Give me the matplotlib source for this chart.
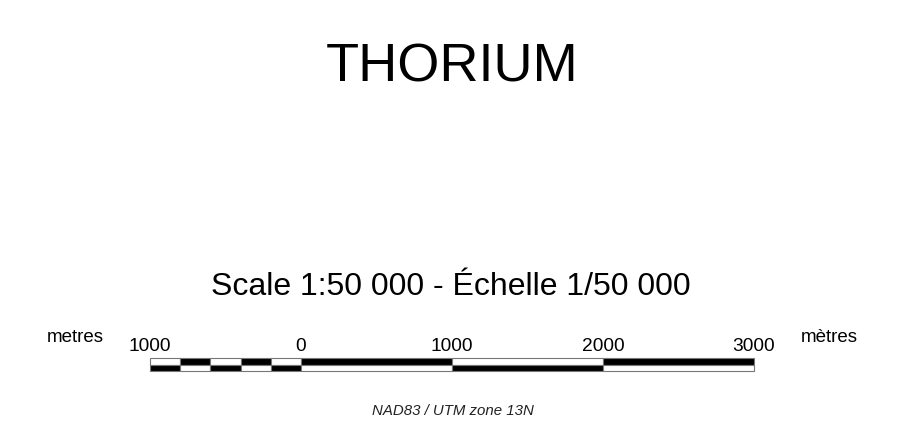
import matplotlib.pyplot as plt
import numpy as np

plt.rcParams["font.family"] = ["Liberation Sans", "DejaVu Sans"]

title = "THORIUM"
scale_text = "Scale 1:50 000 - Échelle 1/50 000"
projection = "NAD83 / UTM zone 13N"

# segment edges of the scale bar, in metres
edges = [-1000, -800, -600, -400, -200, 0, 1000, 2000, 3000]
# colour of the upper half of each segment (lower half is the opposite)
top_black = [False, True, False, True, False, True, False, True]
tick_values = [-1000, 0, 1000, 2000, 3000]
tick_labels = ["1000", "0", "1000", "2000", "3000"]

W, H = 901, 425
fig = plt.figure(figsize=(W / 100, H / 100), dpi=100)
fig.patch.set_facecolor("white")

fig.text(452 / W, 1 - 68 / H, title, ha="center", va="center", fontsize=39)
fig.text(451 / W, 1 - 287 / H, scale_text, ha="center", va="center", fontsize=23)
fig.text(453 / W, 1 - 411 / H, projection, ha="center", va="center",
         fontsize=10.8, style="italic", color="#222222")
fig.text(75 / W, 1 - 338 / H, "metres", ha="center", va="center", fontsize=13.5)
fig.text(829 / W, 1 - 338 / H, "mètres", ha="center", va="center", fontsize=13.5)

# scale bar axes spans -1000..3000 m
x0, x1 = 150, 754
y_top, y_bot = 358, 371
ax = fig.add_axes([x0 / W, 1 - y_bot / H, (x1 - x0) / W, (y_bot - y_top) / H])
ax.set_xlim(edges[0], edges[-1])
ax.set_ylim(0, 2)
ax.axis("off")

lefts = np.array(edges[:-1])
widths = np.diff(edges)
for l, w, tb in zip(lefts, widths, top_black):
    upper = "black" if tb else "white"
    lower = "white" if tb else "black"
    ax.bar(l, 1, width=w, bottom=1, align="edge", color=upper,
           edgecolor="#777777", linewidth=0.8, clip_on=False)
    ax.bar(l, 1, width=w, bottom=0, align="edge", color=lower,
           edgecolor="#777777", linewidth=0.8, clip_on=False)

for v, s in zip(tick_values, tick_labels):
    ax.text(v, 2.5, s, ha="center", va="bottom", fontsize=13.8, clip_on=False)

fig.savefig("out.png", dpi=100, facecolor="white")
